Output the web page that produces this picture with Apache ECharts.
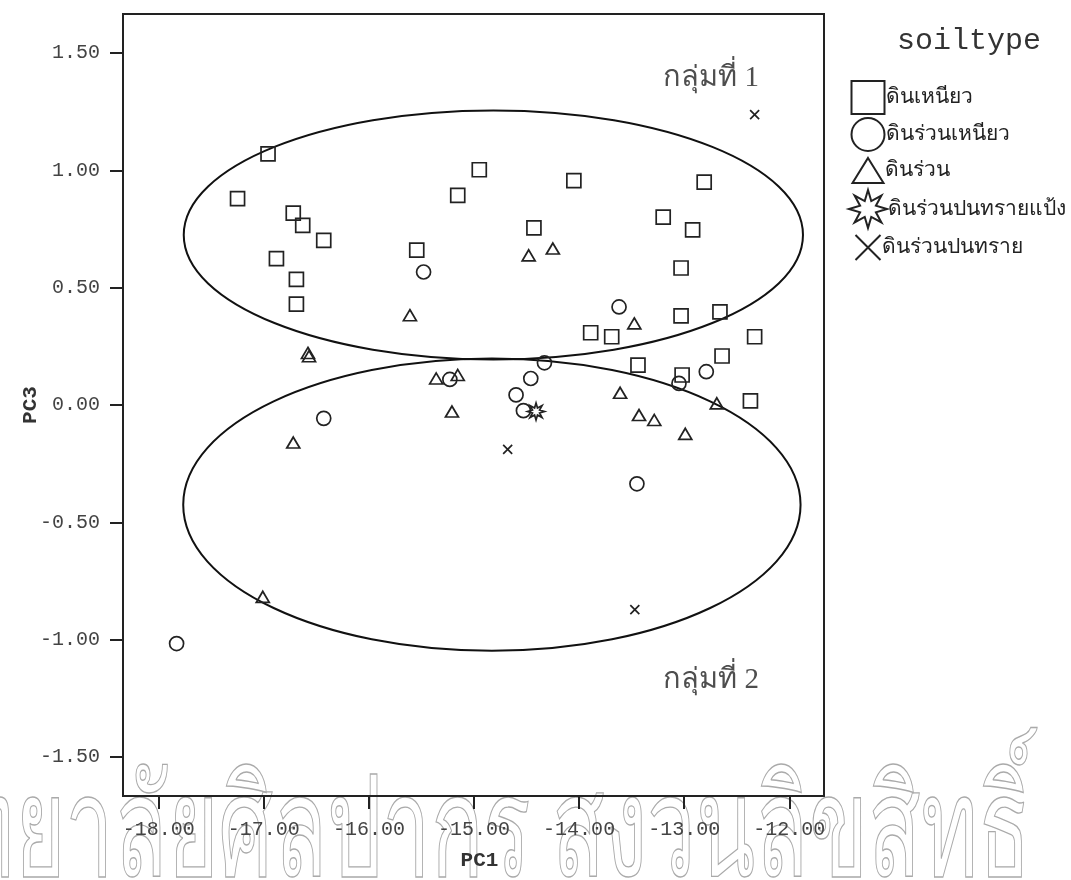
<!DOCTYPE html>
<html>
<head>
<meta charset="utf-8">
<title>soiltype PC1 / PC3</title>
<script src="https://cdn.jsdelivr.net/npm/echarts@6.0.0/dist/echarts.min.js"></script>
<style>
html, body { margin: 0; padding: 0; background: #fff; }
#chart { width: 1071px; height: 880px; }
</style>
</head>
<body>
<div id="chart"></div>
<script>
// values: [PC1, PC3]
var clay = [
    [-16.96, 1.071], [-17.25, 0.880], [-16.72, 0.818], [-16.63, 0.766],
    [-16.43, 0.702], [-16.88, 0.624], [-16.69, 0.536], [-16.69, 0.430],
    [-15.155, 0.894], [-15.545, 0.660], [-14.95, 1.003], [-14.05, 0.957],
    [-12.81, 0.950], [-13.20, 0.801], [-12.92, 0.747], [-14.43, 0.755],
    [-13.03, 0.584], [-13.89, 0.308], [-13.69, 0.291], [-13.03, 0.380],
    [-12.66, 0.397], [-12.33, 0.291], [-12.64, 0.209], [-13.44, 0.170],
    [-13.02, 0.128], [-12.37, 0.018]
];
var clayLoam = [
    [-15.48, 0.567], [-15.23, 0.109], [-16.43, -0.057], [-13.62, 0.418],
    [-13.05, 0.092], [-12.79, 0.142], [-14.33, 0.180], [-14.46, 0.113],
    [-14.60, 0.043], [-14.53, -0.024], [-13.45, -0.336], [-17.83, -1.017]
];
var loam = [
    [-15.61, 0.383], [-16.58, 0.222], [-16.57, 0.208], [-15.36, 0.113],
    [-15.155, 0.128], [-15.21, -0.028], [-14.48, 0.638], [-14.25, 0.667],
    [-13.475, 0.348], [-12.69, 0.007], [-13.61, 0.052], [-13.43, -0.043],
    [-13.285, -0.064], [-12.99, -0.123], [-16.72, -0.160], [-17.01, -0.818]
];
var siltLoam = [[-14.41, -0.028]];
var sandyLoam = [[-14.68, -0.189], [-13.47, -0.872], [-12.33, 1.238]];

var seriesNames = ['ดินเหนียว', 'ดินร่วนเหนียว', 'ดินร่วน', 'ดินร่วนปนทรายแป้ง', 'ดินร่วนปนทราย'];

var xTicks = [-18, -17, -16, -15, -14, -13, -12];
var yTicks = [-1.5, -1.0, -0.5, 0, 0.5, 1.0, 1.5];

// group ellipses: [centre PC1, centre PC3, half width, half height]
var groupEllipses = [
    [-14.816, 0.725, 2.946, 0.531],
    [-14.83, -0.425, 2.937, 0.623]
];
var groupLabels = [
    ['กลุ่มที่ 1', -12.745, 1.392],
    ['กลุ่มที่ 2', -12.745, -1.176]
];

var ink = '#222';
var thaiFont = 'serif';
var monoFont = '"Liberation Mono", "DejaVu Sans Mono", monospace';

var starPath = 'path://M10,0L11.72,5.84L17.07,2.93L14.16,8.28L20,10L14.16,11.72L17.07,17.07L11.72,14.16L10,20L8.28,14.16L2.93,17.07L5.84,11.72L0,10L5.84,8.28L2.93,2.93L8.28,5.84Z';
var crossPath = 'path://M0,0L10,10M10,0L0,10';

function pointSeries(name, data, symbol, size) {
    return {
        name: name,
        type: 'scatter',
        data: data,
        symbol: symbol,
        symbolSize: size,
        itemStyle: { color: 'rgba(0,0,0,0)', borderColor: ink, borderWidth: 1.7, opacity: 1 },
        emphasis: { disabled: true },
        z: 5
    };
}

function legendFor(name, top, w, h) {
    return {
        data: [name],
        left: 867 - w / 2,
        top: top,
        padding: 0,
        orient: 'vertical',
        itemWidth: w,
        itemHeight: h,
        selectedMode: false,
        itemStyle: { borderWidth: 2 },
        textStyle: { fontFamily: thaiFont, fontSize: 21, color: ink, padding: [0, 0, 0, -4] }
    };
}

var chart = echarts.init(document.getElementById('chart'));

chart.setOption({
    animation: false,
    backgroundColor: '#fff',
    title: {
        text: 'soiltype',
        left: 897,
        top: 26,
        padding: 0,
        textStyle: { fontFamily: monoFont, fontSize: 30, fontWeight: 'normal', color: '#333' }
    },
    legend: [
        legendFor(seriesNames[0], 80, 33, 33),
        legendFor(seriesNames[1], 117, 33, 33),
        legendFor(seriesNames[2], 157, 31, 25),
        legendFor(seriesNames[3], 189, 38, 38),
        legendFor(seriesNames[4], 234, 25, 25)
    ],
    grid: {
        left: 123,
        top: 14,
        right: 247,
        bottom: 84,
        show: true,
        borderColor: ink,
        borderWidth: 2,
        backgroundColor: 'transparent'
    },
    xAxis: {
        type: 'value',
        min: -18.34,
        max: -11.67,
        name: 'PC1',
        nameLocation: 'middle',
        nameGap: 54,
        nameTextStyle: { fontFamily: monoFont, fontSize: 21, fontWeight: 'bold', color: '#333', padding: [0, 0, 0, 12] },
        axisLine: { show: true, onZero: false, lineStyle: { color: ink, width: 2 } },
        axisTick: { show: true, length: 13, customValues: xTicks, lineStyle: { color: ink, width: 2 } },
        axisLabel: {
            customValues: xTicks,
            margin: 24,
            fontFamily: monoFont,
            fontSize: 20,
            color: '#444',
            formatter: function (v) { return v.toFixed(2); }
        },
        splitLine: { show: false }
    },
    yAxis: {
        type: 'value',
        min: -1.667,
        max: 1.667,
        name: 'PC3',
        nameLocation: 'middle',
        nameGap: 82,
        nameRotate: 90,
        nameMoveOverlap: false,
        nameTextStyle: { fontFamily: monoFont, fontSize: 21, fontWeight: 'bold', color: '#333' },
        axisLine: { show: true, onZero: false, lineStyle: { color: ink, width: 2 } },
        axisTick: { show: true, length: 13, customValues: yTicks, lineStyle: { color: ink, width: 2 } },
        axisLabel: {
            customValues: yTicks,
            margin: 23,
            fontFamily: monoFont,
            fontSize: 20,
            color: '#444',
            formatter: function (v) { return v.toFixed(2); }
        },
        splitLine: { show: false }
    },
    graphic: [{
        type: 'text',
        left: -255,
        top: 769,
        scaleX: 0.62,
        silent: true,
        z: 0,
        style: {
            text: 'มหาวิทยาลัยศิลปากร สงวนลิขสิทธิ์',
            font: '140px ' + thaiFont,
            fill: 'rgba(0,0,0,0)',
            stroke: '#aaa',
            lineWidth: 1.4
        }
    }],
    series: [
        pointSeries(seriesNames[0], clay, 'rect', 14),
        pointSeries(seriesNames[1], clayLoam, 'circle', 14),
        pointSeries(seriesNames[2], loam, 'triangle', [13, 11]),
        pointSeries(seriesNames[3], siltLoam, starPath, 17),
        pointSeries(seriesNames[4], sandyLoam, crossPath, 9),
        {
            type: 'custom',
            silent: true,
            data: groupEllipses,
            z: 3,
            renderItem: function (params, api) {
                var c = api.coord([api.value(0), api.value(1)]);
                var s = api.size([api.value(2), api.value(3)]);
                return {
                    type: 'ellipse',
                    shape: { cx: c[0], cy: c[1], rx: s[0], ry: s[1] },
                    style: { fill: 'none', stroke: '#111', lineWidth: 2 }
                };
            }
        },
        {
            type: 'scatter',
            silent: true,
            symbolSize: 0,
            data: groupLabels.map(function (g) { return { name: g[0], value: [g[1], g[2]] }; }),
            label: {
                show: true,
                position: 'inside',
                formatter: '{b}',
                fontFamily: thaiFont,
                fontSize: 29,
                color: '#222'
            },
            z: 6
        }
    ]
});
</script>
</body>
</html>
